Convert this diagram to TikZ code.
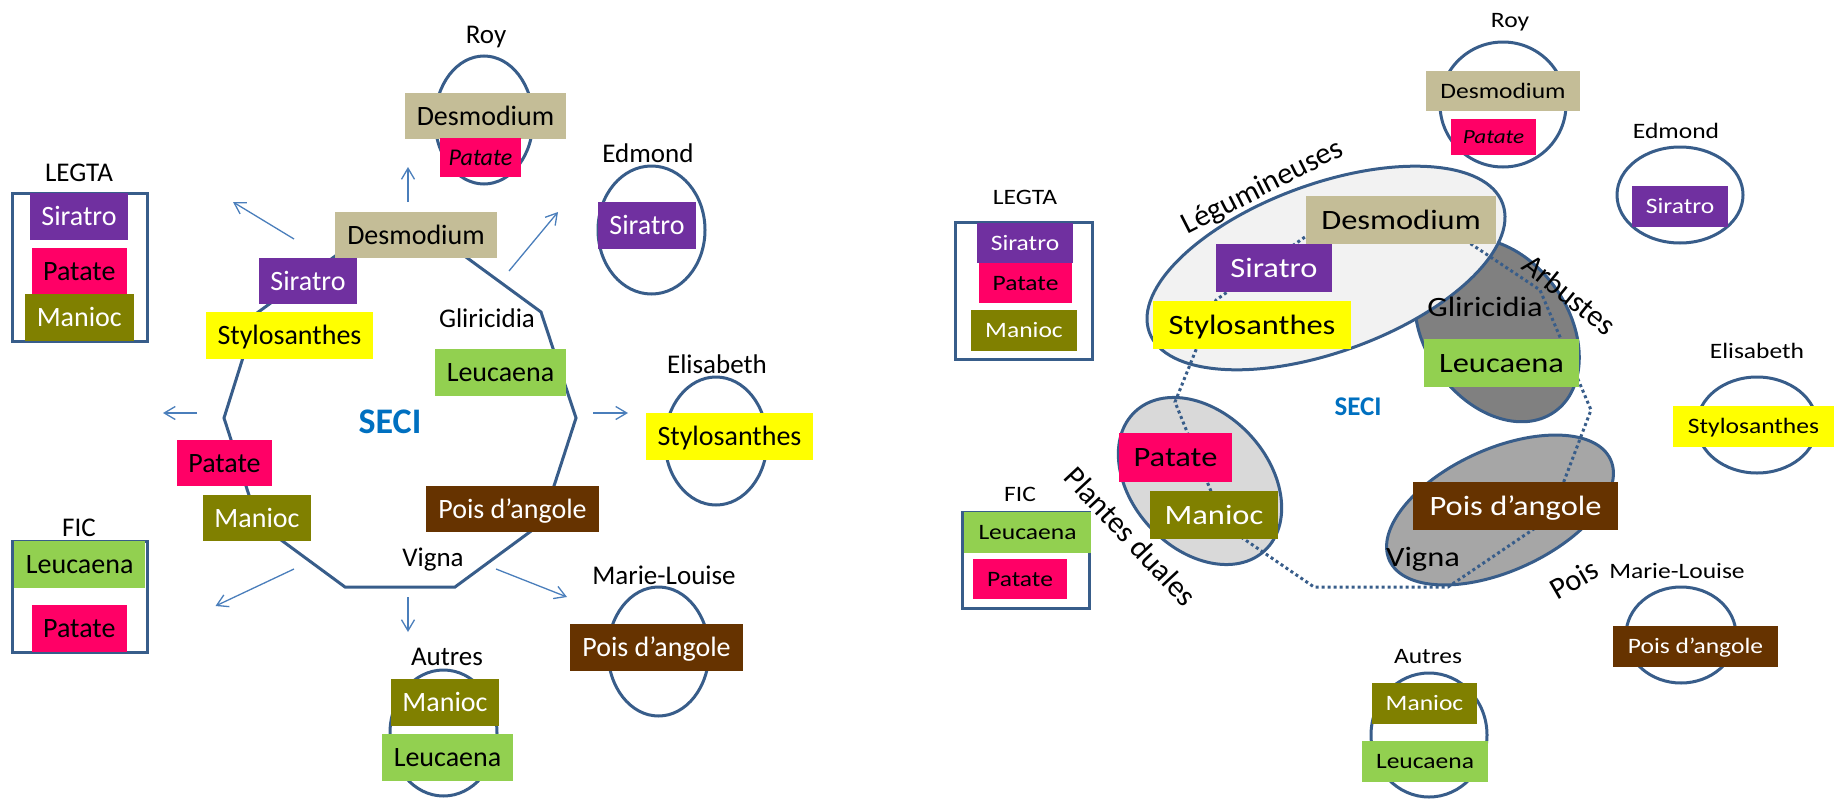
\documentclass[tikz,border=0pt]{standalone}
\usepackage{fontspec}
\setmainfont{Carlito}
\newfontfamily\widefam{Carlito}[FakeStretch=1.16]
\usetikzlibrary{shapes.geometric,arrows.meta}
\definecolor{cDesm}{HTML}{C4BD97}
\definecolor{cSira}{HTML}{7030A0}
\definecolor{cStylo}{HTML}{FFFF00}
\definecolor{cLeuc}{HTML}{92D050}
\definecolor{cPata}{HTML}{FF0066}
\definecolor{cMani}{HTML}{808000}
\definecolor{cPois}{HTML}{663300}
\definecolor{outl}{HTML}{385D8A}
\definecolor{arrc}{HTML}{4A7EBB}
\definecolor{seci}{HTML}{0070C0}
\definecolor{legfill}{HTML}{F2F2F2}
\definecolor{arbfill}{HTML}{808080}
\definecolor{dualfill}{HTML}{D9D9D9}
\definecolor{poisfill}{HTML}{A6A6A6}
\begin{document}
\begin{tikzpicture}[x=1pt,y=-1pt,
  lab/.style={inner sep=0pt, text height=17.4pt, text depth=0pt, font=\fontsize{27}{30}\selectfont},
  labR/.style={inner sep=0pt, text height=14.2pt, text depth=0pt, font=\widefam\fontsize{22}{24}\selectfont},
  labRB/.style={inner sep=0pt, text height=18pt, text depth=0pt, font=\widefam\fontsize{28}{30}\selectfont},
  rotlab/.style={inner sep=0pt, text height=19.3pt, text depth=0pt, font=\fontsize{30.5}{32}\selectfont},
  bx/.style={inner sep=0pt, text height=18pt, text depth=0pt, font=\fontsize{28}{30}\selectfont},
  bxR/.style={inner sep=0pt, text height=18pt, text depth=0pt, font=\widefam\fontsize{28}{30}\selectfont},
  bxS/.style={inner sep=0pt, text height=14.2pt, text depth=0pt, font=\widefam\fontsize{22}{24}\selectfont},
  wh/.style 2 args={minimum width=#1, minimum height=#2},
  desmo/.style={fill=cDesm, text=black},
  sira/.style={fill=cSira, text=white},
  stylo/.style={fill=cStylo, text=black},
  leuca/.style={fill=cLeuc, text=black},
  pata/.style={fill=cPata, text=black},
  mani/.style={fill=cMani, text=white},
  poisx/.style={fill=cPois, text=white},
  ring/.style={ellipse, draw=outl, line width=3pt, inner sep=0pt},
  frame/.style={rectangle, draw=outl, line width=3pt, inner sep=0pt},
  poly/.style={draw=outl, line width=3pt},
  dotpoly/.style={draw=outl, line width=3pt, dash pattern=on 3pt off 3pt},
  arw/.style={draw=arrc, line width=1.3pt, -{Straight Barb[length=11pt,width=13pt]}},
  secil/.style={inner sep=0pt, text=seci, font=\bfseries\fontsize{36}{40}\selectfont, text height=23pt, text depth=0pt},
  secir/.style={inner sep=0pt, text=seci, font=\bfseries\fontsize{27}{30}\selectfont, text height=17.4pt, text depth=0pt}
]
\useasboundingbox (0,0) rectangle (1834,798);

% ================= LEFT PANEL =================
\node[ring, wh={98}{128}] (royE) at (484,120) {};
\node[ring, wh={107}{128}] (edE) at (651.5,230) {};
\node[ring, wh={102}{128}] (elE) at (716,441) {};
\node[ring, wh={101}{129}] (mlE) at (658.5,651.5) {};
\node[ring, wh={107}{126}] (auE) at (443.5,733) {};
\node[frame, wh={135.5}{148}] (legR) at (79.75,267) {};
\node[frame, wh={135.5}{111}] (ficR) at (79.75,596.5) {};

\coordinate (p1) at (345,249);
\coordinate (p2) at (455,249);
\coordinate (p3) at (541,312);
\coordinate (p4) at (576,418);
\coordinate (p5) at (542,523);
\coordinate (p6) at (455,587);
\coordinate (p7) at (345,587);
\coordinate (p8) at (258,523);
\coordinate (p9) at (224,418);
\coordinate (p10) at (257,313);
\draw[poly] (p1) -- (p2) -- (p3) -- (p4) -- (p5) -- (p6) -- (p7) -- (p8) -- (p9) -- (p10) -- cycle;

% outer groups
\node[lab] (royT) at (486,35) {Roy};
\node[bx, desmo, wh={161}{46}] (royD) at (485.5,116) {Desmodium};
\node[inner sep=0pt, text height=15.5pt, text depth=0pt, font=\fontsize{24}{26}\selectfont\itshape, pata, wh={81}{39}] (royP) at (480.5,157.5) {Patate};
\node[lab] (edT) at (648,154) {Edmond};
\node[bx, sira, wh={98}{47}] (edS) at (647,225.5) {Siratro};
\node[lab] (elT) at (717,365) {Elisabeth};
\node[bx, stylo, wh={167}{47}] (elS) at (729.5,436.5) {Stylosanthes};
\node[lab] (mlT) at (664,576) {Marie-Louise};
\node[bx, poisx, wh={173}{47}] (mlP) at (656.5,647.5) {Pois d’angole};
\node[lab] (auT) at (447,657) {Autres};
\node[bx, mani, wh={108}{47}] (auM) at (445,702.5) {Manioc};
\node[bx, leuca, wh={131}{47}] (auL) at (447.5,757.5) {Leucaena};
\node[lab] (legT) at (79,173) {LEGTA};
\node[bx, sira, wh={98}{47}] (legS) at (79,216.5) {Siratro};
\node[bx, pata, wh={95}{47}] (legP) at (79.3,271.5) {Patate};
\node[bx, mani, wh={109}{47}] (legM) at (79.3,317.5) {Manioc};
\node[lab] (ficT) at (79,528) {FIC};
\node[bx, leuca, wh={131}{47}] (ficL) at (79.7,564.5) {Leucaena};
\node[bx, pata, wh={95}{47}] (ficP) at (79.3,628.5) {Patate};

% central
\node[bx, desmo, wh={162}{46}] (cD) at (416,235) {Desmodium};
\node[bx, sira, wh={98}{46}] (cS) at (308,281) {Siratro};
\node[bx, stylo, wh={167}{47}] (cSt) at (289.5,335.5) {Stylosanthes};
\node[lab] (cG) at (487,319) {Gliricidia};
\node[bx, leuca, wh={131}{47}] (cL) at (500.5,372.5) {Leucaena};
\node[secil] (cSECI) at (390,422) {SECI};
\node[bx, pata, wh={95}{46}] (cP) at (224.5,463) {Patate};
\node[bx, mani, wh={108}{46}] (cM) at (257,518) {Manioc};
\node[bx, poisx, wh={173}{46}] (cPo) at (512.5,509) {Pois d’angole};
\node[lab] (cV) at (433,558) {Vigna};

% arrows
\coordinate (a1s) at (408,202); \coordinate (a1e) at (408,167);
\coordinate (a2s) at (294,239); \coordinate (a2e) at (233,202);
\coordinate (a3s) at (509,271); \coordinate (a3e) at (558,212);
\coordinate (a4s) at (197,413); \coordinate (a4e) at (163,413);
\coordinate (a5s) at (593,413); \coordinate (a5e) at (628,413);
\coordinate (a6s) at (294,569); \coordinate (a6e) at (215.5,606);
\coordinate (a7s) at (408,597); \coordinate (a7e) at (408,632);
\coordinate (a8s) at (496,569); \coordinate (a8e) at (567,597);
\draw[arw] (a1s) -- (a1e);
\draw[arw] (a2s) -- (a2e);
\draw[arw] (a3s) -- (a3e);
\draw[arw] (a4s) -- (a4e);
\draw[arw] (a5s) -- (a5e);
\draw[arw] (a6s) -- (a6e);
\draw[arw] (a7s) -- (a7e);
\draw[arw] (a8s) -- (a8e);

% ================= RIGHT PANEL =================
\node[ring, wh={126}{125}] (rRoyE) at (1503,104.5) {};
\node[ring, wh={126}{96}] (rEdE) at (1680,195) {};
\node[ring, wh={120}{96}] (rElE) at (1757,425) {};
\node[ring, wh={110}{96}] (rMlE) at (1681,635) {};
\node[ring, wh={116}{124}] (rAuE) at (1429,735) {};
\node[frame, wh={137}{137}] (rLegR) at (1023.5,290.5) {};
\node[frame, wh={127}{96}] (rFicR) at (1025.5,560) {};

\node[ring, fill=arbfill, wh={200}{144}, rotate=-55] (arbE) at (1497,330) {};
\node[ring, fill=legfill, wh={376}{168}, rotate=20] (legE) at (1326,268) {};
\node[ring, fill=dualfill, wh={190}{136}, rotate=-47] (dualE) at (1200,481) {};
\node[ring, fill=poisfill, wh={243}{122}, rotate=24.5] (poisE) at (1500,510) {};

\coordinate (v1) at (1312,232);
\coordinate (v2) at (1453,232);
\coordinate (v3) at (1540,290);
\coordinate (v4) at (1591,410);
\coordinate (v5) at (1550,518);
\coordinate (v6) at (1448,587);
\coordinate (v7) at (1314,587);
\coordinate (v8) at (1225,526);
\coordinate (v9) at (1175,402);
\coordinate (v10) at (1216,300);
\draw[dotpoly] (v1) -- (v2) -- (v3) -- (v4) -- (v5) -- (v6) -- (v7) -- (v8) -- (v9) -- (v10) -- cycle;

\node[labR] (rRoyT) at (1510,20) {Roy};
\node[bxS, desmo, wh={154}{40}] (rRoyD) at (1503,91) {Desmodium};
\node[inner sep=0pt, text height=12.9pt, text depth=0pt, font=\widefam\fontsize{20}{22}\selectfont\itshape, pata, wh={85}{36}] (rRoyP) at (1493.5,137) {Patate};
\node[labR] (rEdT) at (1676,131) {Edmond};
\node[bxS, sira, wh={96}{41}] (rEdS) at (1680,206.5) {Siratro};
\node[labR] (rElT) at (1757,351) {Elisabeth};
\node[bxS, stylo, wh={161}{41}] (rElS) at (1753.5,426.5) {Stylosanthes};
\node[labR] (rMlT) at (1677,571) {Marie-Louise};
\node[bxS, poisx, wh={165}{41}] (rMlP) at (1695.5,646.5) {Pois d’angole};
\node[labR] (rAuT) at (1428,656) {Autres};
\node[bxS, mani, wh={105}{41}] (rAuM) at (1424.5,703.5) {Manioc};
\node[bxS, leuca, wh={126}{41}] (rAuL) at (1425,761.5) {Leucaena};
\node[labR] (rLegT) at (1025,197) {LEGTA};
\node[bxS, sira, wh={96}{40}] (rLegS) at (1025,243) {Siratro};
\node[bxS, pata, wh={93}{40}] (rLegP) at (1025.5,283) {Patate};
\node[bxS, mani, wh={106}{41}] (rLegM) at (1024,330.5) {Manioc};
\node[labR] (rFicT) at (1020,494) {FIC};
\node[bxS, leuca, wh={127}{41}] (rFicL) at (1027.5,532.5) {Leucaena};
\node[bxS, pata, wh={94}{40}] (rFicP) at (1020,579) {Patate};

\node[bxR, desmo, wh={190}{48}] (rD) at (1401,220) {Desmodium};
\node[bxR, sira, wh={116}{48}] (rS) at (1274,268) {Siratro};
\node[bxR, stylo, wh={198}{48}] (rSt) at (1252,325) {Stylosanthes};
\node[labRB] (rG) at (1485,307) {Gliricidia};
\node[bxR, leuca, wh={155}{48}] (rL) at (1501.5,363) {Leucaena};
\node[bxR, pata, wh={113}{49}] (rP) at (1175.5,457.5) {Patate};
\node[bxR, mani, wh={128}{48}] (rM) at (1214,515) {Manioc};
\node[bxR, poisx, wh={205}{48}] (rPo) at (1515.5,506) {Pois d’angole};
\node[labRB] (rV) at (1423,557) {Vigna};
\node[secir] (rSECI) at (1358,407) {SECI};

\node[rotlab, rotate=27] (tLeg) at (1262,186) {Légumineuses};
\node[rotlab, rotate=-39] (tArb) at (1569,295) {Arbustes};
\node[rotlab, rotate=-47] (tDua) at (1130,537) {Plantes duales};
\node[rotlab, rotate=30] (tPois) at (1574,580) {Pois};
\end{tikzpicture}
\end{document}
